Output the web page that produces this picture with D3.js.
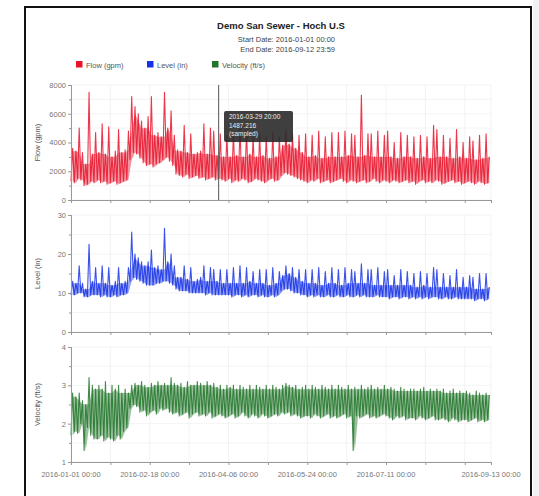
<!DOCTYPE html>
<html><head><meta charset="utf-8">
<script src="https://cdn.jsdelivr.net/npm/d3@7"></script>
<style>body{margin:0;background:#fff}svg{display:block;font-family:Arial,"Liberation Sans",sans-serif}</style>
</head><body><svg id="c" width="539" height="496"></svg>
<script>
// ---- data: 2-day bins starting 2016-01-01, low/high envelope per bin ----
const startDate = "2016-01-01", endDate = "2016-09-13";
const binDays = 2;
const flowLo = [
1300,1200,1500,1400,1000,1100,1300,1200,
1400,1200,1300,1100,1200,1300,1100,1200,
1300,1400,2800,3300,3200,2900,2600,2400,
2500,2300,2500,2600,2800,3000,2700,2400,
1800,1700,1600,1800,1500,1600,1700,1500,
1600,1400,1500,1600,1400,1500,1400,1300,
1500,1200,1400,1300,1500,1400,1200,1300,
1500,1400,1300,1200,1400,1500,1300,1400,
1700,1900,1800,1700,1600,1500,1400,1300,
1200,1400,1300,1500,1200,1300,1400,1200,
1300,1400,1500,1300,1200,1400,1300,1200,
1300,1400,1200,1300,1500,1300,1200,1400,
1300,1200,1400,1300,1200,1300,1400,1200,
1300,1100,1300,1400,1200,1300,1200,1400,
1300,1100,1200,1300,1400,1200,1300,1100,
1200,1300,1200,1100,1300,1200,1100,1200];
const flowHi = [
3600,3400,5000,3300,2500,7500,3200,4700,
3300,5300,3200,5100,3000,3400,4900,3300,
3500,4800,7200,6500,6000,5500,5000,5800,
7200,4500,4700,4400,7500,5000,6200,4500,
3500,3400,5200,3300,4600,3200,3300,3400,
5300,3200,5000,4800,3100,4600,3000,4500,
3000,4700,3100,5000,3000,4800,3200,4400,
3000,4600,3100,4500,2900,4700,3000,4400,
3800,4900,3900,4600,3600,4500,3300,4600,
3000,4500,3100,4800,2900,4400,3000,4700,
3000,4700,3000,4800,3100,4600,4500,3000,
7300,3100,4600,4600,3000,4800,3000,4500,
4800,3000,4000,2900,4700,3000,4500,3000,
4400,2900,4500,3000,4400,2900,5200,4900,
3000,4500,3000,4300,2900,4900,3000,4000,
2900,4400,4100,2800,4500,2900,4600,3000];
const levelLo = [
9.5,9.5,10,10,9,9,9.5,9.5,
9.5,9,9.5,9,9,9.5,9,9.5,
9.5,10,13,14,13.5,13,12.5,12,
12,12,12.5,12.5,13,13,12.5,12,
11,10.5,10.5,10.5,10,10,10,10,
10,9.5,10,9.5,9.5,9.5,9.5,9.5,
9.5,9,9.5,9.5,9,9.5,9,9.5,
9.5,9,9.5,9,9,9.5,9,9.5,
10.5,11,11,10.5,10,10,9.5,9.5,
9,9.5,9,9.5,9,9,9.5,9,
9,9.5,9,9,9.5,9,9,9.5,
9,9.5,9,9,9,9.5,9,9,
9,8.5,9,9,8.5,9,9,8.5,
9,8.5,9,8.5,9,8.5,9,9,
8.5,8.5,9,8.5,8.5,9,8.5,8.5,
8.5,8.5,8.5,8,8.5,8.5,8,8.5];
const levelHi = [
13,12.5,17,12.5,11,22.5,13,16.5,
12.5,17,12.5,16.5,12,13,16.5,12.5,
13,16.5,25.6,20,19,18,17,18,
21,16.5,17,16,26.6,18,20,17,
14,14,17,13.5,16.5,13,13.5,14,
17,13,16.5,16,13,16,12.5,16,
12.5,16.5,12.5,17,12.5,16.5,13,15.5,
12.5,16,12.5,16,12,16.5,12.5,15.5,
14.5,17,15,16.5,14,16,13,16,
12.5,16,12.5,16.5,12,15.5,12.5,16.5,
12.5,16,12,16.5,12.5,16,15.5,12.5,
17.5,12.5,16,16,12,16.5,12,15.5,
16,12,14.5,12,16,12,15.5,12,
15,11.5,15.5,12,15,11.5,16.5,16,
11.5,15,11.5,14.5,11.5,16,11.5,14,
11.5,14.5,14,11,15,11,15,11.5];
const velLo = [
1.7,1.8,1.75,2.0,1.3,1.9,1.7,1.6,
1.6,1.7,1.55,1.65,1.6,1.55,1.7,1.6,
1.8,1.9,2.4,2.5,2.45,2.3,2.35,2.2,
2.3,2.35,2.25,2.4,2.35,2.4,2.3,2.25,
2.3,2.2,2.25,2.3,2.15,2.25,2.3,2.2,
2.25,2.2,2.3,2.15,2.2,2.25,2.2,2.15,
2.2,2.25,2.15,2.2,2.3,2.2,2.15,2.25,
2.2,2.15,2.25,2.2,2.15,2.2,2.25,2.2,
2.3,2.25,2.3,2.2,2.25,2.2,2.15,2.2,
2.2,2.15,2.25,2.2,2.15,2.2,2.25,2.15,
2.2,2.15,2.2,2.25,2.15,2.2,1.3,2.2,
2.15,2.2,2.25,2.15,2.2,2.15,2.2,2.25,
2.2,2.15,2.1,2.2,2.15,2.2,2.1,2.15,
2.15,2.1,2.2,2.15,2.1,2.15,2.2,2.1,
2.1,2.15,2.1,2.05,2.15,2.1,2.05,2.1,
2.1,2.05,2.1,2.15,2.05,2.1,2.05,2.1];
const velHi = [
2.8,2.7,2.8,2.6,2.5,3.2,3.0,2.9,
3.0,2.9,3.1,2.8,3.0,2.9,3.0,2.8,
2.9,2.8,3.0,3.05,3.0,3.1,3.0,2.95,
3.05,3.0,3.1,3.0,3.05,3.0,3.2,3.05,
3.0,3.05,2.95,3.1,3.0,3.0,3.1,3.05,
3.0,3.1,3.0,3.05,2.95,3.0,2.9,3.0,
2.95,3.0,2.9,3.0,2.95,2.9,3.0,2.9,
3.0,2.95,2.9,3.0,2.9,3.0,2.95,2.9,
3.0,3.05,3.0,2.95,3.0,2.9,2.95,3.0,
2.9,3.0,2.95,2.9,3.0,2.95,2.9,3.0,
2.9,3.0,2.95,2.9,3.0,2.9,2.95,2.9,
3.0,2.9,2.95,3.0,2.9,2.95,2.9,3.0,
2.9,2.95,2.9,2.85,2.95,2.9,2.85,2.9,
2.9,2.85,2.9,2.95,2.85,2.9,2.85,2.9,
2.85,2.9,2.8,2.85,2.9,2.8,2.85,2.8,
2.85,2.8,2.75,2.85,2.8,2.75,2.8,2.75];

const flowTicks = [0,2000,4000,6000,8000];
const levelTicks = [0,10,20,30];
const velTicks = [1,2,3,4];
const xTickDates = ["2016-01-01","2016-01-25","2016-02-18","2016-03-13","2016-04-06","2016-04-30","2016-05-24","2016-06-17","2016-07-11","2016-08-04","2016-08-28","2016-09-13"];
const xLabelDates = ["2016-01-01","2016-02-18","2016-04-06","2016-05-24","2016-07-11","2016-09-13"];
const titleText = "Demo San Sewer - Hoch U.S";
const subText = ["Start Date: 2016-01-01 00:00","End Date: 2016-09-12 23:59"];
const legendNames = ["Flow (gpm)","Level (in)","Velocity (ft/s)"];
const colors = ["#e8142c","#1733e6","#22762a"];
const tipText = ["2016-03-29 20:00","1487.216","(sampled)"];
const cursorDate = "2016-03-31 00:00";

// ---- drawing ----
const svg = d3.select("#c");
const parse = d3.utcParse("%Y-%m-%d");
const parseT = d3.utcParse("%Y-%m-%d %H:%M");
const X0 = 71, X1 = 491;
const x = d3.scaleUtc().domain([parse(startDate), parse(endDate)]).range([X0, X1]);

// frame
svg.append("rect").attr("x",533).attr("y",0).attr("width",6).attr("height",496).attr("fill","#f1f1f1");
svg.append("path").attr("d","M25,496V7H531V496").attr("fill","none").attr("stroke","#111").attr("stroke-width",2);

// title
svg.append("text").attr("x",281).attr("y",29).attr("text-anchor","middle").attr("font-size",9.5).attr("font-weight","bold").attr("fill","#222").text(titleText);
subText.forEach((t,i)=>svg.append("text").attr("x",335).attr("y",42+i*10).attr("text-anchor","end").attr("font-size",7.5).attr("fill","#444").text(t));

// legend
const legX = [76,147,212];
legendNames.forEach((n,i)=>{
  svg.append("rect").attr("x",legX[i]).attr("y",61).attr("width",6.5).attr("height",6.5).attr("fill",colors[i]);
  svg.append("text").attr("x",legX[i]+10).attr("y",67.5).attr("font-size",7.5).attr("fill","#555").text(n);
});

const panels = [
  {lo:flowLo, hi:flowHi, dom:[0,8000], rng:[200,85], ticks:flowTicks, minor:1000, label:"Flow (gpm)", color:colors[0]},
  {lo:levelLo, hi:levelHi, dom:[0,30], rng:[332,215], ticks:levelTicks, minor:5, label:"Level (in)", color:colors[1]},
  {lo:velLo, hi:velHi, dom:[1,4], rng:[462,347], ticks:velTicks, minor:0.5, label:"Velocity (ft/s)", color:colors[2]}
];

const xTicks = xTickDates.map(parse);
panels.forEach((p,pi)=>{
  const y = d3.scaleLinear().domain(p.dom).range(p.rng);
  const g = svg.append("g");
  const minors = d3.range(p.dom[0], p.dom[1]+1e-9, p.minor);
  // grid
  g.selectAll(".hg").data(minors).join("line").attr("x1",X0).attr("x2",X1)
    .attr("y1",d=>y(d)).attr("y2",d=>y(d)).attr("stroke","#f0f0f0").attr("stroke-width",0.8);
  g.selectAll(".vg").data(xTicks).join("line").attr("x1",d=>x(d)).attr("x2",d=>x(d))
    .attr("y1",p.rng[1]).attr("y2",p.rng[0]).attr("stroke","#f0f0f0").attr("stroke-width",0.8);
  const n = Math.min(p.lo.length, p.hi.length);
  const t0 = parse(startDate);
  // core band: between low and the smallest neighbouring high
  const core = d3.range(n).map(i=>({
    t: d3.utcHour.offset(t0, 24*(i*binDays+binDays/2)),
    lo: p.lo[i],
    top: Math.min(p.hi[Math.max(0,i-1)], p.hi[i], p.hi[Math.min(n-1,i+1)])
  }));
  g.append("path").datum(core).attr("d", d3.area().x(d=>x(d.t)).y0(d=>y(d.lo)).y1(d=>y(d.top)))
    .attr("fill",p.color).attr("fill-opacity",0.45);
  // data as zigzag between low and high in each bin
  const pts = [];
  for(let i=0;i<n;i++){
    const a = d3.utcDay.offset(t0, i*binDays);
    const b = d3.utcHour.offset(a, 24*binDays/2);
    pts.push([a, p.lo[i]]); pts.push([b, p.hi[i]]);
  }
  const line = d3.line().x(d=>x(d[0])).y(d=>y(d[1]));
  g.append("path").datum(pts).attr("d",line).attr("fill","none").attr("stroke",p.color)
    .attr("stroke-width",1.1).attr("stroke-opacity",0.85).attr("stroke-linejoin","round");
  // axes
  const ax = d3.axisLeft(y).tickValues(p.ticks).tickSize(3).tickPadding(2).tickFormat(d3.format("d"));
  const ag = g.append("g").attr("transform",`translate(${X0},0)`).call(ax);
  const mg = g.append("g").attr("transform",`translate(${X0},0)`).call(d3.axisLeft(y).tickValues(minors.filter(v=>!p.ticks.includes(v))).tickSize(2).tickFormat(""));
  [ag,mg].forEach(s=>{s.select(".domain").attr("stroke","#999"); s.selectAll("line").attr("stroke","#999");});
  ag.selectAll("text").attr("font-size",7.5).attr("fill","#777").attr("font-family","Arial, Liberation Sans, sans-serif");
  // bottom line of panel
  const bx = d3.axisBottom(x).tickValues(xTicks).tickSize(3).tickFormat("");
  const bg = g.append("g").attr("transform",`translate(0,${p.rng[0]})`).call(bx);
  bg.select(".domain").attr("stroke","#999"); bg.selectAll("line").attr("stroke","#999");
  // y title
  const cy = (p.rng[0]+p.rng[1])/2;
  g.append("text").attr("transform",`translate(40,${cy}) rotate(-90)`).attr("text-anchor","middle")
    .attr("font-size",7.5).attr("fill","#555").text(p.label);
});

// x labels
const fmt = d3.utcFormat("%Y-%m-%d %H:%M");
svg.selectAll(".xl").data(xLabelDates.map(parse)).join("text").attr("x",d=>x(d)).attr("y",477)
  .attr("text-anchor","middle").attr("font-size",7.5).attr("fill","#777").text(d=>fmt(d));

// cursor + tooltip
const cx = x(parseT(cursorDate));
svg.append("line").attr("x1",cx).attr("x2",cx).attr("y1",85).attr("y2",200).attr("stroke","#555").attr("stroke-width",1);
svg.append("rect").attr("x",224).attr("y",111).attr("width",69).attr("height",31).attr("rx",2).attr("fill","#2a2a2a").attr("fill-opacity",0.9);
tipText.forEach((t,i)=>svg.append("text").attr("x",229).attr("y",119+i*8.5).attr("font-size",6.5).attr("fill","#eee").text(t));
</script></body></html>
